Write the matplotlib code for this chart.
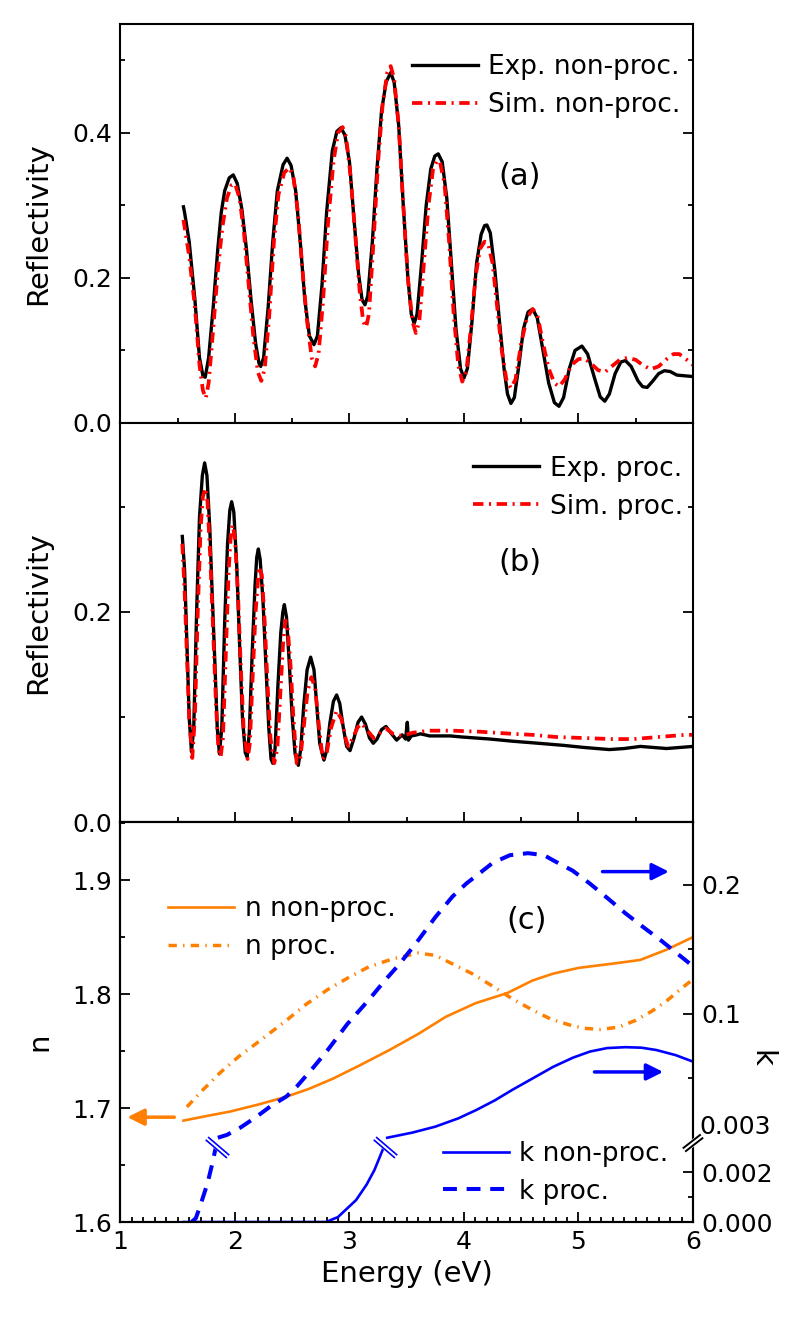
import matplotlib
matplotlib.use('Agg')
import matplotlib.pyplot as plt
import numpy as np
from matplotlib.path import Path
from matplotlib.ticker import MultipleLocator, FixedLocator

plt.rcParams['font.family'] = ['DejaVu Sans']
plt.rcParams['lines.scale_dashes'] = False
plt.rcParams['axes.linewidth'] = 1.5

# ---- panel (a): non-processed reflectivity ----
exp_a_x = [1.55, 1.56, 1.60, 1.65, 1.69, 1.72, 1.74, 1.77, 1.81, 1.85, 1.88, 1.91, 1.95, 1.985,
           2.02, 2.06, 2.10, 2.14, 2.18, 2.21, 2.225, 2.25, 2.29, 2.33, 2.37, 2.42, 2.455, 2.49,
           2.53, 2.57, 2.61, 2.65, 2.69, 2.72, 2.76, 2.80, 2.85, 2.89, 2.925, 2.96, 3.00, 3.04,
           3.08, 3.11, 3.135, 3.16, 3.20, 3.24, 3.28, 3.32, 3.36, 3.39, 3.43, 3.47, 3.51, 3.54,
           3.565, 3.59, 3.63, 3.67, 3.71, 3.745, 3.775, 3.81, 3.85, 3.89, 3.93, 3.97, 4.00, 4.03,
           4.07, 4.11, 4.15, 4.18, 4.20, 4.23, 4.27, 4.31, 4.35, 4.38, 4.41, 4.44, 4.48, 4.52,
           4.56, 4.60, 4.64, 4.69, 4.74, 4.79, 4.83, 4.87, 4.92, 4.97, 5.03, 5.08, 5.14, 5.19,
           5.23, 5.27, 5.32, 5.37, 5.41, 5.46, 5.52, 5.56, 5.60, 5.65, 5.70, 5.75, 5.80, 5.86,
           5.93, 6.00]
exp_a_r = [0.298, 0.290, 0.250, 0.170, 0.090, 0.065, 0.063, 0.090, 0.160, 0.240, 0.290, 0.320,
           0.338, 0.342, 0.330, 0.295, 0.240, 0.170, 0.110, 0.082, 0.078, 0.090, 0.160, 0.250,
           0.320, 0.356, 0.365, 0.355, 0.320, 0.250, 0.170, 0.120, 0.108, 0.120, 0.190, 0.290,
           0.375, 0.402, 0.407, 0.397, 0.360, 0.280, 0.205, 0.170, 0.163, 0.175, 0.250, 0.350,
           0.430, 0.470, 0.483, 0.470, 0.410, 0.300, 0.200, 0.150, 0.137, 0.150, 0.220, 0.300,
           0.350, 0.368, 0.371, 0.360, 0.310, 0.220, 0.130, 0.075, 0.062, 0.075, 0.140, 0.220,
           0.260, 0.272, 0.273, 0.262, 0.210, 0.140, 0.075, 0.040, 0.027, 0.035, 0.080, 0.130,
           0.153, 0.157, 0.145, 0.100, 0.055, 0.028, 0.023, 0.035, 0.075, 0.100, 0.106, 0.095,
           0.062, 0.036, 0.030, 0.040, 0.068, 0.084, 0.086, 0.078, 0.058, 0.050, 0.049, 0.058,
           0.068, 0.072, 0.071, 0.066, 0.065, 0.064]

sim_a_x = [1.55, 1.60, 1.65, 1.69, 1.72, 1.745, 1.77, 1.81, 1.85, 1.89, 1.93, 1.97, 2.00, 2.04,
           2.08, 2.12, 2.16, 2.20, 2.23, 2.26, 2.30, 2.34, 2.38, 2.43, 2.475, 2.51, 2.55, 2.59,
           2.63, 2.67, 2.70, 2.73, 2.77, 2.81, 2.86, 2.90, 2.94, 2.97, 3.01, 3.05, 3.09, 3.12,
           3.145, 3.17, 3.21, 3.25, 3.29, 3.33, 3.36, 3.39, 3.43, 3.47, 3.51, 3.55, 3.58, 3.61,
           3.65, 3.69, 3.73, 3.765, 3.79, 3.83, 3.87, 3.91, 3.95, 3.985, 4.02, 4.06, 4.10, 4.14,
           4.18, 4.21, 4.25, 4.29, 4.33, 4.37, 4.41, 4.45, 4.50, 4.55, 4.60, 4.64, 4.69, 4.74,
           4.79, 4.83, 4.88, 4.94, 5.00, 5.05, 5.11, 5.17, 5.23, 5.29, 5.36, 5.43, 5.50, 5.56,
           5.63, 5.70, 5.77, 5.83, 5.88, 5.94, 6.00]
sim_a_r = [0.280, 0.230, 0.160, 0.080, 0.045, 0.034, 0.055, 0.130, 0.210, 0.270, 0.310, 0.328,
           0.330, 0.310, 0.260, 0.190, 0.120, 0.070, 0.058, 0.075, 0.150, 0.250, 0.315, 0.345,
           0.352, 0.340, 0.290, 0.210, 0.140, 0.090, 0.078, 0.095, 0.170, 0.270, 0.360, 0.400,
           0.408, 0.395, 0.340, 0.260, 0.180, 0.140, 0.132, 0.150, 0.250, 0.360, 0.440, 0.483,
           0.492, 0.475, 0.410, 0.300, 0.200, 0.140, 0.124, 0.140, 0.220, 0.300, 0.350, 0.362,
           0.360, 0.330, 0.250, 0.150, 0.080, 0.057, 0.070, 0.130, 0.200, 0.240, 0.250, 0.248,
           0.220, 0.160, 0.100, 0.060, 0.048, 0.060, 0.110, 0.145, 0.157, 0.150, 0.110, 0.075,
           0.055, 0.050, 0.060, 0.080, 0.088, 0.089, 0.082, 0.073, 0.070, 0.078, 0.087, 0.090,
           0.087, 0.080, 0.074, 0.078, 0.088, 0.095, 0.095, 0.088, 0.080]

# ---- panel (b): processed reflectivity ----
exp_b_x = [1.54, 1.56, 1.58, 1.60, 1.62, 1.64, 1.665, 1.69, 1.715, 1.735, 1.755, 1.78, 1.80,
           1.825, 1.845, 1.864, 1.885, 1.91, 1.935, 1.955, 1.971, 1.99, 2.015, 2.04, 2.065, 2.09,
           2.106, 2.125, 2.15, 2.175, 2.19, 2.204, 2.22, 2.245, 2.27, 2.295, 2.315, 2.33, 2.35,
           2.375, 2.40, 2.418, 2.431, 2.45, 2.475, 2.50, 2.525, 2.553, 2.575, 2.60, 2.63, 2.661,
           2.69, 2.715, 2.74, 2.777, 2.80, 2.83, 2.86, 2.888, 2.915, 2.946, 2.975, 3.005, 3.04,
           3.075, 3.106, 3.14, 3.175, 3.208, 3.24, 3.28, 3.319, 3.36, 3.412, 3.46, 3.49, 3.505,
           3.515, 3.54, 3.587, 3.62, 3.70, 3.88, 3.98, 4.23, 4.42, 4.65, 4.87, 5.05, 5.27, 5.40,
           5.54, 5.77, 6.00]
exp_b_r = [0.272, 0.240, 0.170, 0.100, 0.067, 0.090, 0.200, 0.290, 0.330, 0.342, 0.330, 0.280,
           0.220, 0.150, 0.090, 0.065, 0.090, 0.190, 0.265, 0.297, 0.305, 0.295, 0.245, 0.170,
           0.100, 0.066, 0.062, 0.085, 0.160, 0.225, 0.252, 0.260, 0.250, 0.210, 0.150, 0.090,
           0.060, 0.056, 0.070, 0.130, 0.180, 0.200, 0.207, 0.195, 0.150, 0.100, 0.065, 0.054,
           0.070, 0.110, 0.145, 0.157, 0.145, 0.110, 0.075, 0.059, 0.068, 0.095, 0.115, 0.121,
           0.113, 0.090, 0.072, 0.068, 0.080, 0.095, 0.100, 0.093, 0.080, 0.075, 0.079, 0.088,
           0.091, 0.085, 0.078, 0.083, 0.079, 0.095, 0.078, 0.082, 0.083, 0.084, 0.082, 0.082,
           0.081, 0.079, 0.077, 0.075, 0.073, 0.071, 0.069, 0.070, 0.072, 0.070, 0.072]

sim_b_x = [1.54, 1.56, 1.58, 1.60, 1.627, 1.65, 1.675, 1.70, 1.72, 1.74, 1.76, 1.785, 1.81,
           1.835, 1.855, 1.875, 1.895, 1.92, 1.945, 1.965, 1.98, 2.00, 2.025, 2.05, 2.075, 2.11,
           2.13, 2.155, 2.18, 2.21, 2.235, 2.26, 2.285, 2.31, 2.343, 2.37, 2.40, 2.42, 2.44, 2.46,
           2.485, 2.51, 2.539, 2.57, 2.60, 2.635, 2.667, 2.70, 2.73, 2.766, 2.80, 2.84, 2.888,
           2.93, 2.97, 2.99, 3.03, 3.07, 3.106, 3.15, 3.21, 3.27, 3.32, 3.38, 3.46, 3.55, 3.70,
           3.90, 4.14, 4.42, 4.60, 4.80, 5.04, 5.30, 5.48, 5.70, 5.93, 6.00]
sim_b_r = [0.265, 0.220, 0.160, 0.100, 0.061, 0.100, 0.200, 0.280, 0.310, 0.318, 0.305, 0.250,
           0.180, 0.110, 0.070, 0.062, 0.080, 0.160, 0.240, 0.275, 0.283, 0.270, 0.220, 0.150,
           0.090, 0.060, 0.075, 0.140, 0.200, 0.243, 0.235, 0.190, 0.130, 0.080, 0.056, 0.070,
           0.130, 0.170, 0.192, 0.185, 0.150, 0.100, 0.056, 0.060, 0.090, 0.125, 0.138, 0.128,
           0.095, 0.060, 0.065, 0.090, 0.106, 0.098, 0.078, 0.072, 0.080, 0.090, 0.094, 0.088,
           0.080, 0.085, 0.089, 0.084, 0.082, 0.085, 0.087, 0.087, 0.086, 0.084, 0.083, 0.081,
           0.080, 0.079, 0.079, 0.081, 0.083, 0.083]

# ---- panel (c): optical constants ----
n_non_x = [1.55, 1.75, 1.96, 2.20, 2.45, 2.65, 2.86, 3.10, 3.35, 3.60, 3.84, 4.10, 4.38, 4.60,
           4.78, 5.00, 5.32, 5.54, 5.77, 6.00]
n_non = [1.689, 1.693, 1.697, 1.703, 1.710, 1.717, 1.726, 1.738, 1.751, 1.765, 1.780, 1.792,
         1.801, 1.812, 1.818, 1.823, 1.827, 1.830, 1.839, 1.850]

n_proc_x = [1.58, 1.72, 1.87, 2.03, 2.19, 2.32, 2.45, 2.62, 2.81, 3.00, 3.17, 3.38, 3.60, 3.75,
            3.89, 4.07, 4.25, 4.42, 4.60, 4.76, 4.92, 5.05, 5.19, 5.35, 5.50, 5.64, 5.77, 5.90,
            6.00]
n_proc = [1.701, 1.716, 1.731, 1.745, 1.757, 1.767, 1.777, 1.791, 1.804, 1.815, 1.824, 1.831,
          1.836, 1.834, 1.827, 1.818, 1.807, 1.796, 1.786, 1.778, 1.773, 1.770, 1.769, 1.771,
          1.777, 1.785, 1.794, 1.805, 1.813]

k_non_lo_x = [1.55, 2.00, 2.50, 2.795, 2.90, 3.058, 3.15, 3.218, 3.30]
k_non_lo = [0.0, 0.0, 0.0, 0.0, 0.0002, 0.00088, 0.0015, 0.00208, 0.003]
k_non_hi_x = [3.33, 3.55, 3.75, 3.95, 4.11, 4.27, 4.42, 4.60, 4.78, 4.95, 5.10, 5.25, 5.41,
              5.55, 5.68, 5.85, 6.00]
k_non_hi = [0.004, 0.008, 0.0126, 0.019, 0.0256, 0.033, 0.041, 0.050, 0.059, 0.066, 0.0708,
            0.0735, 0.0742, 0.0738, 0.072, 0.068, 0.063]

k_proc_lo_x = [1.62, 1.658, 1.70, 1.76, 1.80, 1.833]
k_proc_lo = [0.0, 0.00015, 0.0007, 0.00155, 0.0023, 0.003]
k_proc_hi_x = [1.85, 1.93, 2.05, 2.19, 2.32, 2.45, 2.54, 2.68, 2.81, 2.98, 3.17, 3.31, 3.44,
               3.60, 3.75, 3.90, 4.02, 4.15, 4.25, 4.40, 4.56, 4.70, 4.78, 4.95, 5.10, 5.25,
               5.41, 5.57, 5.72, 5.86, 6.00]
k_proc_hi = [0.004, 0.0062, 0.012, 0.0204, 0.029, 0.036, 0.0437, 0.058, 0.072, 0.092, 0.111,
             0.126, 0.139, 0.157, 0.175, 0.191, 0.201, 0.210, 0.217, 0.223, 0.2246, 0.223,
             0.219, 0.211, 0.201, 0.190, 0.178, 0.167, 0.157, 0.147, 0.137]

k_breaks_x = [1.84, 3.31]

ORANGE = '#FF8000'
BLUE = '#0000FF'
RED = '#FF0000'
FS_TICK = 18
FS_LAB = 21
FS_LEG = 19
FS_PANEL = 22


def k_fwd(k):
    # broken k axis: 0-0.003 stretched, then linear above the break
    k = np.asarray(k, dtype=float)
    return np.where(k <= 0.003, k * 25000.0, 83.0 + (k - 0.003) * 1290.0)


def k_inv(p):
    p = np.asarray(p, dtype=float)
    return np.where(p <= 75.0, p / 25000.0,
                    np.where(p < 83.0, 0.003, 0.003 + (p - 83.0) / 1290.0))


def style(ax):
    ax.tick_params(which='both', direction='in', labelsize=FS_TICK, width=1.3, pad=6)
    ax.tick_params(which='major', length=7)
    ax.tick_params(which='minor', length=3.5)


def leg(ax, x0, y0, **kw):
    ax.legend(loc='upper left', bbox_to_anchor=(x0, y0), frameon=False, fontsize=FS_LEG,
              handlelength=2.5, handletextpad=0.4, borderpad=0, borderaxespad=0,
              labelspacing=0.45, **kw)


fig = plt.figure(figsize=(8, 13.28), dpi=100)
L, W = 0.1506, 0.7156
ax_a = fig.add_axes([L, 0.6815, W, 0.3004])
ax_b = fig.add_axes([L, 0.3810, W, 0.3005])
ax_c = fig.add_axes([L, 0.0798, W, 0.3012])

# (a)
ax_a.plot(exp_a_x, exp_a_r, color='black', lw=2.4, label='Exp. non-proc.')
ax_a.plot(sim_a_x, sim_a_r, color=RED, lw=2.7, dashes=(7.5, 4, 1.5, 4), label='Sim. non-proc.')
ax_a.set_xlim(1, 6)
ax_a.set_ylim(0, 0.55)
ax_a.yaxis.set_major_locator(FixedLocator([0.0, 0.2, 0.4]))
ax_a.yaxis.set_minor_locator(FixedLocator([0.1, 0.3, 0.5]))
ax_a.xaxis.set_major_locator(MultipleLocator(1))
ax_a.xaxis.set_minor_locator(MultipleLocator(0.5))
style(ax_a)
ax_a.tick_params(axis='x', which='both', top=False, labelbottom=False)
ax_a.tick_params(axis='y', which='both', right=True)
ax_a.set_ylabel('Reflectivity', fontsize=FS_LAB)
ax_a.yaxis.set_label_coords(-0.12, 0.5)
ax_a.text(4.49, 0.34, '(a)', fontsize=FS_PANEL, ha='center', va='center')
leg(ax_a, 0.509, 0.925)

# (b)
ax_b.plot(exp_b_x, exp_b_r, color='black', lw=2.4, label='Exp. proc.')
ax_b.plot(sim_b_x, sim_b_r, color=RED, lw=2.7, dashes=(7.5, 4, 1.5, 4), label='Sim. proc.')
ax_b.set_xlim(1, 6)
ax_b.set_ylim(0, 0.38)
ax_b.yaxis.set_major_locator(FixedLocator([0.0, 0.2]))
ax_b.yaxis.set_minor_locator(FixedLocator([0.1, 0.3]))
ax_b.xaxis.set_major_locator(MultipleLocator(1))
ax_b.xaxis.set_minor_locator(MultipleLocator(0.5))
style(ax_b)
ax_b.tick_params(axis='x', which='both', top=False, labelbottom=False)
ax_b.tick_params(axis='y', which='both', right=True)
ax_b.set_ylabel('Reflectivity', fontsize=FS_LAB)
ax_b.yaxis.set_label_coords(-0.12, 0.525)
ax_b.text(4.49, 0.247, '(b)', fontsize=FS_PANEL, ha='center', va='center')
leg(ax_b, 0.616, 0.918)

# (c) n on the left
ax_c.plot(n_non_x, n_non, color=ORANGE, lw=1.9, label='n non-proc.')
ax_c.plot(n_proc_x, n_proc, color=ORANGE, lw=2.5, dashes=(6, 4.5, 1, 4.5), label='n proc.')
ax_c.set_xlim(1, 6)
ax_c.set_ylim(1.6, 1.951)
ax_c.yaxis.set_major_locator(FixedLocator([1.6, 1.7, 1.8, 1.9]))
ax_c.yaxis.set_minor_locator(FixedLocator([1.65, 1.75, 1.85, 1.95]))
ax_c.yaxis.set_major_formatter(plt.FormatStrFormatter('%.1f'))
ax_c.xaxis.set_major_locator(MultipleLocator(1))
ax_c.xaxis.set_minor_locator(MultipleLocator(0.1))
style(ax_c)
ax_c.tick_params(axis='x', which='both', top=False)
ax_c.tick_params(axis='y', which='both', right=False)
ax_c.set_xlabel('Energy (eV)', fontsize=FS_LAB, labelpad=4)
ax_c.set_ylabel('n', fontsize=FS_LAB)
ax_c.yaxis.set_label_coords(-0.117, 0.45)
ax_c.text(4.55, 1.865, '(c)', fontsize=FS_PANEL, ha='center', va='center')
leg(ax_c, 0.083, 0.815)
ax_c.annotate('', xy=(1.06, 1.692), xytext=(1.47, 1.692),
              arrowprops=dict(arrowstyle='-|>', color=ORANGE, lw=2.5, mutation_scale=25,
                              shrinkA=0, shrinkB=0))

# (c) k on the right, broken scale
ax_k = ax_c.twinx()
ax_k.set_yscale('function', functions=(k_fwd, k_inv))
ax_k.set_ylim(0, 0.003 + 317.0 / 1290.0)
ln_kn, = ax_k.plot(k_non_lo_x, k_non_lo, color=BLUE, lw=1.9, label='k non-proc.')
ax_k.plot(k_non_hi_x, k_non_hi, color=BLUE, lw=1.9)
ln_kp, = ax_k.plot(k_proc_lo_x, k_proc_lo, color=BLUE, lw=2.9, dashes=(10, 7), label='k proc.')
ax_k.plot(k_proc_hi_x, k_proc_hi, color=BLUE, lw=2.9, dashes=(10, 7))

# break marks on the k curves
d = np.array([0.76, -0.65])
p = np.array([0.65, 0.76])
c1, c2 = 0.13 * p, -0.13 * p
brk = Path([c1 - d, c1 + d, c2 - d, c2 + d], [Path.MOVETO, Path.LINETO, Path.MOVETO, Path.LINETO])
gap = Path([-d, d], [Path.MOVETO, Path.LINETO])
kb = [0.003] * len(k_breaks_x)
ax_k.plot(k_breaks_x, kb, ls='none', marker=gap, ms=15, mec='white', mew=4, zorder=5)
ax_k.plot(k_breaks_x, kb, ls='none', marker=brk, ms=17, mec=BLUE, mew=1.2, zorder=6)

ax_k.yaxis.set_major_locator(FixedLocator([0.0, 0.002, 0.1, 0.2]))
ax_k.yaxis.set_minor_locator(FixedLocator([0.001, 0.05, 0.15]))
ax_k.set_yticklabels(['0.000', '0.002', '0.1', '0.2'])
style(ax_k)
ax_k.text(1.012, 0.2375, '0.003', transform=ax_k.transAxes, fontsize=FS_TICK,
          ha='left', va='center')
ax_k.set_ylabel('k', fontsize=FS_LAB, rotation=270, va='center')
ax_k.yaxis.set_label_coords(1.12, 0.41)

# break on the right spine
axw, axh = 572.5, 400.0
yb = 79.0 / axh
for off, col, w in [(0, 'white', 5), (-2, 'black', 1.4), (2, 'black', 1.4)]:
    ox, oy = -0.6 * off / axw, 0.8 * off / axh
    ax_k.plot([1 - 9 / axw + ox, 1 + 9 / axw + ox], [yb - 7 / axh + oy, yb + 7 / axh + oy],
              transform=ax_k.transAxes, color=col, lw=w, clip_on=False, zorder=10,
              solid_capstyle='butt')

ax_k.annotate('', xy=(5.79, 0.2103), xytext=(5.21, 0.2103),
              arrowprops=dict(arrowstyle='-|>', color=BLUE, lw=2.5, mutation_scale=25,
                              shrinkA=0, shrinkB=0))
ax_k.annotate('', xy=(5.74, 0.055), xytext=(5.14, 0.055),
              arrowprops=dict(arrowstyle='-|>', color=BLUE, lw=2.5, mutation_scale=25,
                              shrinkA=0, shrinkB=0))
leg(ax_k, 0.563, 0.203, handles=[ln_kn, ln_kp])

fig.savefig('out.png', dpi=100)
